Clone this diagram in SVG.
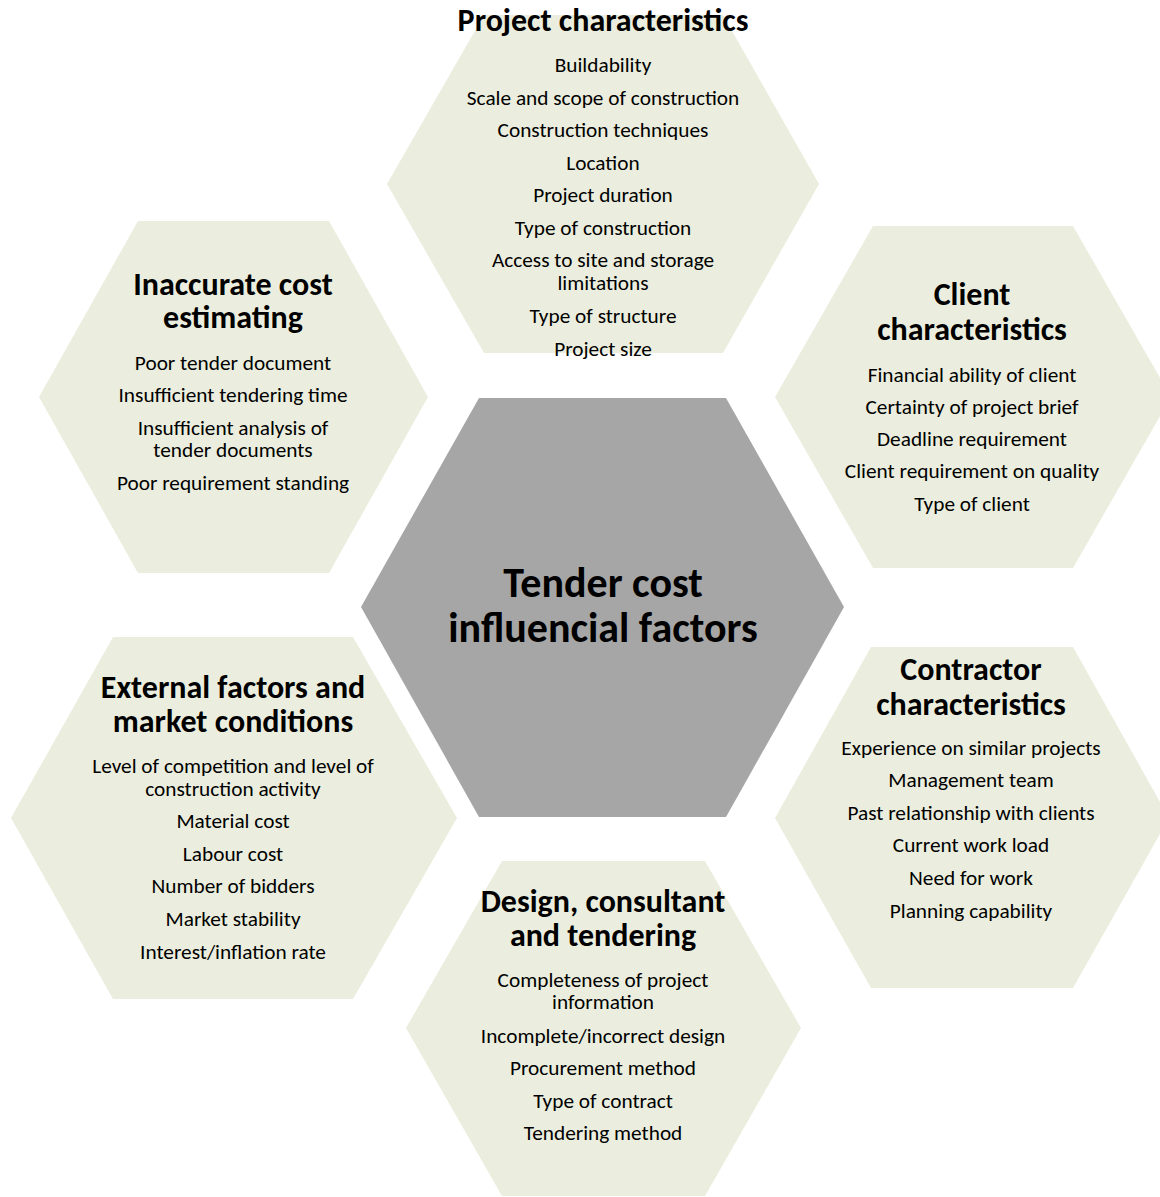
<svg xmlns="http://www.w3.org/2000/svg" width="1160" height="1197" viewBox="0 0 1160 1197">
  <style>
    .hex { fill: #EBEEDE; stroke: none; }
    .core { fill: #A6A6A6; stroke: none; }
    text { font-family: Carlito, Lato, "Noto Sans", sans-serif; fill: #000; text-anchor: middle; }
    .title { font-size: 32px; font-weight: bold; }
    .item { font-size: 21.3px; }
    .main { font-size: 42px; font-weight: bold; }
  </style>
  <rect width="1160" height="1197" fill="#FFFFFF"/>

  <!-- Project characteristics (top) -->
  <g id="project">
    <polygon class="hex" points="387,184 484,15 723,15 819,184 723,353 484,353"/>
    <text class="title" x="603" y="31">Project characteristics</text>
    <text class="item" x="603" y="72">Buildability</text>
    <text class="item" x="603" y="105">Scale and scope of construction</text>
    <text class="item" x="603" y="137">Construction techniques</text>
    <text class="item" x="603" y="170">Location</text>
    <text class="item" x="603" y="202">Project duration</text>
    <text class="item" x="603" y="235">Type of construction</text>
    <text class="item" x="603" y="267">Access to site and storage</text>
    <text class="item" x="603" y="290">limitations</text>
    <text class="item" x="603" y="323">Type of structure</text>
    <text class="item" x="603" y="356">Project size</text>
  </g>

  <!-- Inaccurate cost estimating (upper left) -->
  <g id="estimating">
    <polygon class="hex" points="39,397 138,221 329,221 428,397 329,573 138,573"/>
    <text class="title" x="233" y="295">Inaccurate cost</text>
    <text class="title" x="233" y="328">estimating</text>
    <text class="item" x="233" y="370">Poor tender document</text>
    <text class="item" x="233" y="402">Insufficient tendering time</text>
    <text class="item" x="233" y="435">Insufficient analysis of</text>
    <text class="item" x="233" y="457">tender documents</text>
    <text class="item" x="233" y="490">Poor requirement standing</text>
  </g>

  <!-- Client characteristics (upper right) -->
  <g id="client">
    <polygon class="hex" points="775,397 873,226 1073,226 1171,397 1073,568 873,568"/>
    <text class="title" x="972" y="305">Client</text>
    <text class="title" x="972" y="340">characteristics</text>
    <text class="item" x="972" y="382">Financial ability of client</text>
    <text class="item" x="972" y="414">Certainty of project brief</text>
    <text class="item" x="972" y="446">Deadline requirement</text>
    <text class="item" x="972" y="478">Client requirement on quality</text>
    <text class="item" x="972" y="511">Type of client</text>
  </g>

  <!-- External factors and market conditions (lower left) -->
  <g id="external">
    <polygon class="hex" points="11,818 113,637 353,637 457,818 353,999 113,999"/>
    <text class="title" x="233" y="698">External factors and</text>
    <text class="title" x="233" y="732">market conditions</text>
    <text class="item" x="233" y="773">Level of competition and level of</text>
    <text class="item" x="233" y="796">construction activity</text>
    <text class="item" x="233" y="828">Material cost</text>
    <text class="item" x="233" y="861">Labour cost</text>
    <text class="item" x="233" y="893">Number of bidders</text>
    <text class="item" x="233" y="926">Market stability</text>
    <text class="item" x="233" y="959">Interest/inflation rate</text>
  </g>

  <!-- Contractor characteristics (lower right) -->
  <g id="contractor">
    <polygon class="hex" points="775,818 871,647 1073,647 1169,818 1073,988 871,988"/>
    <text class="title" x="971" y="680">Contractor</text>
    <text class="title" x="971" y="715">characteristics</text>
    <text class="item" x="971" y="755">Experience on similar projects</text>
    <text class="item" x="971" y="787">Management team</text>
    <text class="item" x="971" y="820">Past relationship with clients</text>
    <text class="item" x="971" y="852">Current work load</text>
    <text class="item" x="971" y="885">Need for work</text>
    <text class="item" x="971" y="918">Planning capability</text>
  </g>

  <!-- Design, consultant and tendering (bottom) -->
  <g id="design">
    <polygon class="hex" points="406,1028 502,861 705,861 801,1028 705,1196 502,1196"/>
    <text class="title" x="603" y="912">Design, consultant</text>
    <text class="title" x="603" y="946">and tendering</text>
    <text class="item" x="603" y="987">Completeness of project</text>
    <text class="item" x="603" y="1009">information</text>
    <text class="item" x="603" y="1043">Incomplete/incorrect design</text>
    <text class="item" x="603" y="1075">Procurement method</text>
    <text class="item" x="603" y="1108">Type of contract</text>
    <text class="item" x="603" y="1140">Tendering method</text>
  </g>

  <!-- Central hexagon -->
  <g id="center">
    <polygon class="core" points="361,607 479,398 726,398 844,607 726,817 479,817"/>
    <text class="main" x="603" y="597">Tender cost</text>
    <text class="main" x="603" y="642">influencial factors</text>
  </g>

  <!-- The layout has no connecting lines -->
  <g id="connectors"/>
</svg>
